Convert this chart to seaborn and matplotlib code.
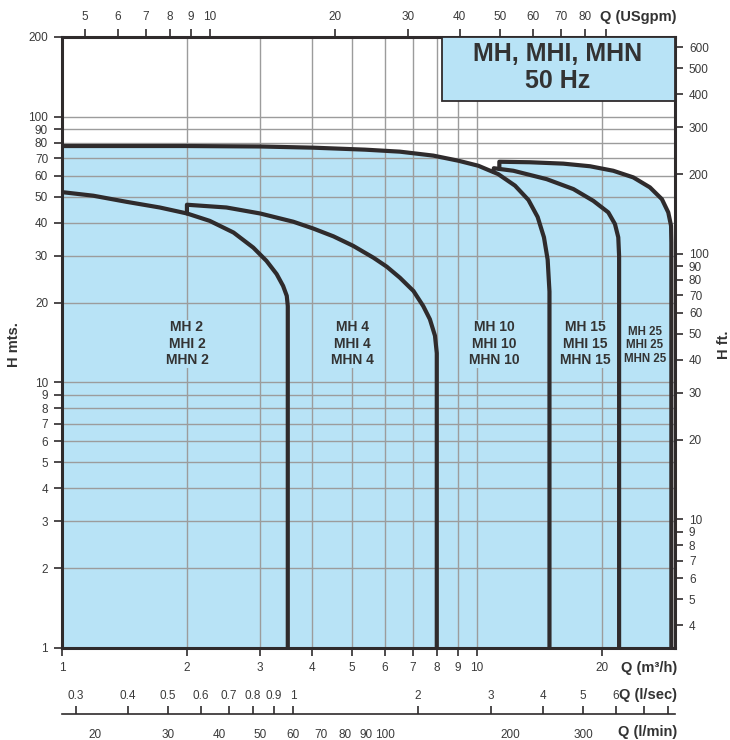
import matplotlib
matplotlib.use("Agg")
import matplotlib.pyplot as plt
from matplotlib.patches import Rectangle
from matplotlib.ticker import NullLocator
import seaborn as sns

# pump curves: Q in m3/h, H in metres
mh2_q = [1, 1.19, 1.43, 1.72, 2.0, 2.27, 2.59, 2.89, 3.11, 3.29, 3.41, 3.48, 3.5, 3.5]
mh2_h = [52.1, 50.5, 47.9, 45.6, 43.3, 40.6, 36.7, 32.2, 28.7, 25.6, 23.1, 21.2, 19.4, 1]

mh4_q = [2.0, 2.0, 2.49, 3.0, 3.61, 4.03, 4.51, 5.03, 5.63, 6.06, 6.52, 7.03, 7.42, 7.70, 7.92, 8.0, 8.0]
mh4_h = [43.3, 46.7, 45.6, 43.3, 40.3, 38.0, 35.5, 32.7, 29.5, 27.3, 24.8, 22.1, 19.4, 17.3, 15.0, 12.9, 1]

mh10_q = [1, 2, 3, 4.03, 5.37, 6.52, 7.85, 9.02, 10.07, 11.25, 12.35, 13.3, 14.0, 14.5, 14.8, 14.95, 14.95]
mh10_h = [77.7, 77.7, 77.4, 76.6, 75.3, 74.0, 71.5, 68.4, 65.5, 60.9, 55.1, 48.7, 42.0, 35.2, 29.0, 22.0, 1]

mh15_q = [10.95, 10.98, 12.24, 14.72, 17.07, 19.07, 20.72, 21.5, 21.9, 22.0, 22.0]
mh15_h = [62.2, 64.1, 62.7, 58.3, 53.5, 48.3, 43.7, 39.5, 35.2, 30.0, 1]

mh25_q = [11.32, 11.32, 13.42, 16.14, 18.72, 21.3, 23.8, 26.1, 27.9, 28.9, 29.35, 29.4, 29.4]
mh25_h = [63.7, 67.8, 67.5, 66.7, 65.2, 62.7, 59.2, 54.3, 49.0, 43.7, 38.9, 33.6, 1]

curves = [(mh2_q, mh2_h), (mh4_q, mh4_h), (mh10_q, mh10_h),
          (mh15_q, mh15_h), (mh25_q, mh25_h)]

model_labels = ["MH 2\nMHI 2\nMHN 2", "MH 4\nMHI 4\nMHN 4", "MH 10\nMHI 10\nMHN 10",
                "MH 15\nMHI 15\nMHN 15", "MH 25\nMHI 25\nMHN 25"]
label_q = [2.0, 5.0, 11.0, 18.2, 25.4]
label_h = [14.0, 14.0, 14.0, 14.0, 13.8]
label_size = [10, 10, 10, 10, 8.3]

# tick values for the main and secondary scales
q_m3h_ticks = [1, 2, 3, 4, 5, 6, 7, 8, 9, 10, 20]
h_m_ticks = [1, 2, 3, 4, 5, 6, 7, 8, 9, 10, 20, 30, 40, 50, 60, 70, 80, 90, 100, 200]
gpm_ticks = [5, 6, 7, 8, 9, 10, 20, 30, 40, 50, 60, 70, 80, 90]
gpm_labels = ["5", "6", "7", "8", "9", "10", "20", "30", "40", "50", "60", "70", "80", ""]
ft_ticks = [4, 5, 6, 7, 8, 9, 10, 20, 30, 40, 50, 60, 70, 80, 90, 100, 200, 300, 400, 500, 600]
ls_ticks = [0.3, 0.4, 0.5, 0.6, 0.7, 0.8, 0.9, 1, 2, 3, 4, 5, 6, 7, 8]
ls_labels = ["0.3", "0.4", "0.5", "0.6", "0.7", "0.8", "0.9", "1", "2", "3", "4", "5", "6", "", ""]
lm_ticks = [20, 30, 40, 50, 60, 70, 80, 90, 100, 200, 300]

sns.set_style("white")
plt.rcParams["font.family"] = ["Liberation Sans", "DejaVu Sans"]

blue = "#b8e3f6"
dark = "#2f2b2c"
grey = "#9c9c9c"
txt = "#3a3a3a"

fig = plt.figure(figsize=(7.3, 7.4), dpi=100)
L, B = 62 / 730, 1 - 648 / 740
W, H = (675 - 62) / 730, (648 - 37) / 740
ax = fig.add_axes([L, B, W, H])
ax.set_xscale("log")
ax.set_yscale("log")

for q, h in curves:
    ax.fill_between(q, 1, h, color=blue, linewidth=0, zorder=0.2)
for q, h in curves:
    sns.lineplot(x=q, y=h, ax=ax, sort=False, estimator=None, color=dark,
                 linewidth=3, zorder=3, solid_joinstyle="round")

for lab, q, h, s in zip(model_labels, label_q, label_h, label_size):
    ax.text(q, h, lab, ha="center", va="center", fontsize=s, fontweight="bold",
            color="#333333", zorder=1.5,
            bbox=dict(facecolor=blue, edgecolor="none", pad=0.5))

ax.set_xlim(1, 30)
ax.set_ylim(1, 200)
ax.set_xticks(q_m3h_ticks)
ax.set_xticklabels([str(t) for t in q_m3h_ticks])
ax.set_yticks(h_m_ticks)
ax.set_yticklabels([str(t) for t in h_m_ticks])
ax.xaxis.set_minor_locator(NullLocator())
ax.yaxis.set_minor_locator(NullLocator())
ax.set_axisbelow(True)
ax.grid(True, which="major", color=grey, linewidth=1)
ax.tick_params(direction="out", length=6, width=1.2, color=dark,
               labelsize=8.5, labelcolor=txt, pad=4)
ax.set_xlabel("")
ax.set_ylabel("")
for sp in ax.spines.values():
    sp.set_linewidth(2.2)
    sp.set_color(dark)
    sp.set_visible(True)

# top: US gpm
ax_top = ax.twiny()
ax_top.set_xscale("log")
ax_top.set_xlim(1 * 4.4029, 30 * 4.4029)
ax_top.set_xticks(gpm_ticks)
ax_top.set_xticklabels(gpm_labels)
ax_top.xaxis.set_minor_locator(NullLocator())
ax_top.tick_params(direction="out", length=6, width=1.2, color=dark,
                   labelsize=8.5, labelcolor=txt, pad=4)
for sp in ax_top.spines.values():
    sp.set_visible(False)

# right: feet
ax_right = ax.twinx()
ax_right.set_yscale("log")
ax_right.set_ylim(1 * 3.2808, 200 * 3.2808)
ax_right.set_yticks(ft_ticks)
ax_right.set_yticklabels([str(t) for t in ft_ticks])
ax_right.yaxis.set_minor_locator(NullLocator())
ax_right.tick_params(direction="out", length=6, width=1.2, color=dark,
                     labelsize=8.5, labelcolor=txt, pad=4)
for sp in ax_right.spines.values():
    sp.set_visible(False)

# bottom: l/sec above the line, l/min below it
y_line = 1 - 714 / 740
ax_ls = fig.add_axes([L, y_line, W, 1e-4])
ax_ls.set_xscale("log")
ax_ls.set_xlim(1 / 3.6, 30 / 3.6)
ax_ls.set_xticks(ls_ticks)
ax_ls.set_xticklabels(ls_labels)
ax_ls.xaxis.set_minor_locator(NullLocator())
ax_ls.xaxis.set_ticks_position("top")
ax_ls.xaxis.set_label_position("top")
ax_ls.tick_params(axis="x", direction="out", length=6, width=1.2, color=dark,
                  labelsize=8.5, labelcolor=txt, pad=2.5)
ax_ls.set_yticks([])
ax_ls.patch.set_visible(False)
for sp in ax_ls.spines.values():
    sp.set_visible(False)

ax_lm = fig.add_axes([L, y_line, W, 1e-4])
ax_lm.set_xscale("log")
ax_lm.set_xlim(1000 / 60, 30000 / 60)
ax_lm.set_xticks(lm_ticks)
ax_lm.set_xticklabels([str(t) for t in lm_ticks])
ax_lm.xaxis.set_minor_locator(NullLocator())
ax_lm.tick_params(axis="x", direction="out", length=6, width=1.2, color=dark,
                  labelsize=8.5, labelcolor=txt, pad=4.5)
ax_lm.set_yticks([])
ax_lm.patch.set_visible(False)
for sp in ax_lm.spines.values():
    sp.set_visible(False)
ax_lm.spines["bottom"].set_visible(True)
ax_lm.spines["bottom"].set_color(dark)
ax_lm.spines["bottom"].set_linewidth(1.2)

# title box
ax.add_patch(Rectangle((442 / 730, 1 - 101 / 740), (675 - 442) / 730, 64 / 740,
                       transform=fig.transFigure, facecolor=blue, edgecolor=dark,
                       linewidth=1.3, zorder=5, clip_on=False))
fig.text(558 / 730, 1 - 67.5 / 740, "MH, MHI, MHN\n50 Hz", ha="center", va="center",
         fontsize=18, fontweight="bold", color="#333333", linespacing=1.2, zorder=6)

# axis titles
title_kw = dict(fontsize=10.5, fontweight="bold", color="#333333")
fig.text(677 / 730, 1 - 17 / 740, "Q (USgpm)", ha="right", va="center", **title_kw)
fig.text(677 / 730, 1 - 668 / 740, "Q (m³/h)", ha="right", va="center", **title_kw)
fig.text(677 / 730, 1 - 695 / 740, "Q (l/sec)", ha="right", va="center", **title_kw)
fig.text(677 / 730, 1 - 732 / 740, "Q (l/min)", ha="right", va="center", **title_kw)
fig.text(14 / 730, 1 - 345 / 740, "H mts.", rotation=90, ha="center", va="center", **title_kw)
fig.text(724 / 730, 1 - 345 / 740, "H ft.", rotation=90, ha="center", va="center", **title_kw)

fig.savefig("out.png", dpi=100)
